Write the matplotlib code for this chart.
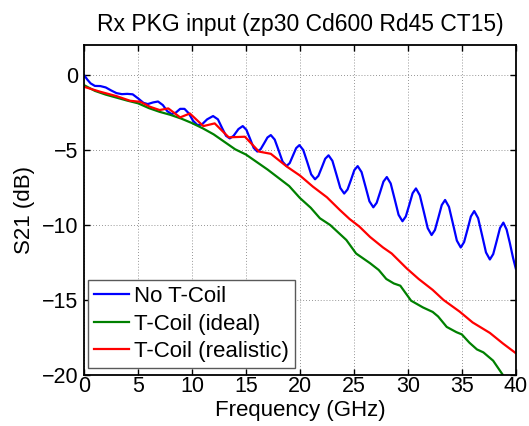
import matplotlib
matplotlib.use("Agg")
import matplotlib.pyplot as plt

plt.rcParams["font.family"] = ["Liberation Sans", "DejaVu Sans"]

# frequency (GHz) / S21 (dB)
f_no = [0, 0.3, 0.6, 1.0, 1.5, 2.0, 2.5, 3.0, 3.5, 4.0, 4.5, 5.0, 5.5, 5.9, 6.4,
        6.85, 7.3, 7.7, 8.1, 8.5, 8.9, 9.3, 9.7, 10.1, 10.5, 10.9, 11.4, 11.95,
        12.4, 12.8, 13.15, 13.5, 13.85, 14.3, 14.7,
        15.04, 15.38, 15.71, 16.05, 16.36, 16.68, 16.99, 17.3,
        17.66, 18.03, 18.39, 18.75, 19.05, 19.35, 19.65, 19.95,
        20.31, 20.68, 21.04, 21.4, 21.71, 22.03, 22.34, 22.65,
        23.01, 23.38, 23.74, 24.1, 24.41, 24.73, 25.04, 25.35,
        25.71, 26.08, 26.44, 26.8, 27.11, 27.43, 27.74, 28.05,
        28.41, 28.78, 29.14, 29.5, 29.81, 30.13, 30.44, 30.75,
        31.11, 31.48, 31.84, 32.2, 32.51, 32.83, 33.14, 33.45,
        33.81, 34.18, 34.54, 34.9, 35.21, 35.53, 35.84, 36.15,
        36.51, 36.88, 37.24, 37.6, 37.91, 38.23, 38.54, 38.85,
        39.15, 39.45, 39.75, 40.0]
s_no = [0.0, -0.3, -0.55, -0.72, -0.73, -0.82, -1.02, -1.2, -1.27, -1.25, -1.28,
        -1.55, -1.85, -1.93, -1.82, -1.76, -2.0, -2.4, -2.6, -2.5, -2.25, -2.25,
        -2.55, -3.05, -3.33, -3.3, -2.95, -2.73, -2.95, -3.55, -4.05, -4.22,
        -4.05, -3.6, -3.4,
        -3.65, -4.25, -4.85, -5.1, -4.94, -4.55, -4.16, -4.0,
        -4.3, -5.03, -5.77, -6.07, -5.87, -5.37, -4.87, -4.67,
        -5.0, -5.81, -6.62, -6.95, -6.72, -6.15, -5.58, -5.35,
        -5.72, -6.63, -7.53, -7.9, -7.63, -6.99, -6.34, -6.07,
        -6.47, -7.45, -8.42, -8.82, -8.52, -7.81, -7.1, -6.8,
        -7.23, -8.28, -9.32, -9.75, -9.43, -8.66, -7.88, -7.56,
        -8.02, -9.12, -10.21, -10.67, -10.33, -9.5, -8.67, -8.33,
        -8.79, -9.92, -11.04, -11.5, -11.14, -10.29, -9.43, -9.07,
        -9.54, -10.69, -11.83, -12.3, -11.94, -11.07, -10.2, -9.84,
        -10.3, -11.2, -12.2, -12.9]

f_ideal = [0, 1, 2, 3, 4, 5, 6, 7, 8, 9, 10, 11, 12, 13, 14, 15, 16, 17, 18,
           19, 20, 21, 21.85, 22.8, 24.3, 25.2, 26.5, 27.3, 28.0, 28.7, 29.3,
           29.8, 30.3, 31.4, 32.3, 32.8, 33.6, 34.5, 35.0, 35.7, 36.4, 37.0,
           37.9, 38.8, 40.0]
s_ideal = [-0.67, -1.05, -1.3, -1.5, -1.7, -1.88, -2.2, -2.45, -2.65, -2.9,
           -3.2, -3.55, -3.95, -4.45, -4.95, -5.3, -5.8, -6.3, -6.85, -7.4,
           -8.2, -8.85, -9.55, -10.0, -11.0, -11.9, -12.55, -13.0, -13.6,
           -13.9, -14.05, -14.55, -15.05, -15.5, -15.8, -16.1, -16.8, -17.15,
           -17.3, -17.85, -18.3, -18.5, -19.05, -20.0, -21.2]

f_real = [0, 1.5, 3.0, 4.26, 5.2, 6.1, 7.0, 7.8, 8.9, 9.8, 11.05, 12.1, 13.4,
          14.9, 16.2, 17.3, 18.8, 20.0, 21.2, 22.5, 23.7, 24.6, 25.5, 26.5,
          27.7, 28.5, 29.9, 31.0, 32.3, 33.3, 34.8, 36.0, 37.6, 38.8, 40.0]
s_real = [-0.78, -1.11, -1.4, -1.71, -1.78, -2.11, -2.33, -2.22, -2.82, -2.56,
          -3.4, -3.22, -4.15, -4.11, -5.1, -5.25, -6.11, -6.7, -7.44, -8.15,
          -9.0, -9.6, -10.1, -10.8, -11.5, -11.9, -12.9, -13.6, -14.33, -15.0,
          -15.78, -16.5, -17.2, -17.9, -18.55]

x_ticks = [0, 5, 10, 15, 20, 25, 30, 35, 40]
y_ticks = [-20, -15, -10, -5, 0]

fig = plt.figure(figsize=(5.29, 4.26), dpi=100)
ax = fig.add_axes([0.159, 0.12, 0.816, 0.774])

ax.plot(f_no, s_no, color=(0, 0, 1), lw=1.6, label="No T-Coil")
ax.plot(f_ideal, s_ideal, color=(0, 0.5, 0), lw=1.6, label="T-Coil (ideal)")
ax.plot(f_real, s_real, color=(1, 0, 0), lw=1.6, label="T-Coil (realistic)")

ax.set_xlim(0, 40)
ax.set_ylim(-20, 2)
ax.set_xticks(x_ticks)
ax.set_yticks(y_ticks)
ax.grid(True, linestyle=(0, (1, 2.5)), color="0.45", lw=0.6)
ax.tick_params(direction="in", length=4, width=1, labelsize=15.5,
               top=True, right=True)
ax.tick_params(axis="x", pad=1)
ax.tick_params(axis="y", pad=4)
for sp in ax.spines.values():
    sp.set_linewidth(1.3)

ax.set_title("Rx PKG input (zp30 Cd600 Rd45 CT15)", fontsize=16.5, pad=10)
ax.set_xlabel("Frequency (GHz)", fontsize=16, labelpad=2)
ax.set_ylabel("S21 (dB)", fontsize=16, labelpad=5)

leg = ax.legend(loc="lower left", bbox_to_anchor=(0.008, 0.02), fontsize=16,
                fancybox=False, edgecolor="0.35", framealpha=1,
                handlelength=1.6, handletextpad=0.2, labelspacing=0.29,
                borderpad=0.28, borderaxespad=0)
leg.get_frame().set_linewidth(1.0)

fig.savefig("out.png", dpi=100)
